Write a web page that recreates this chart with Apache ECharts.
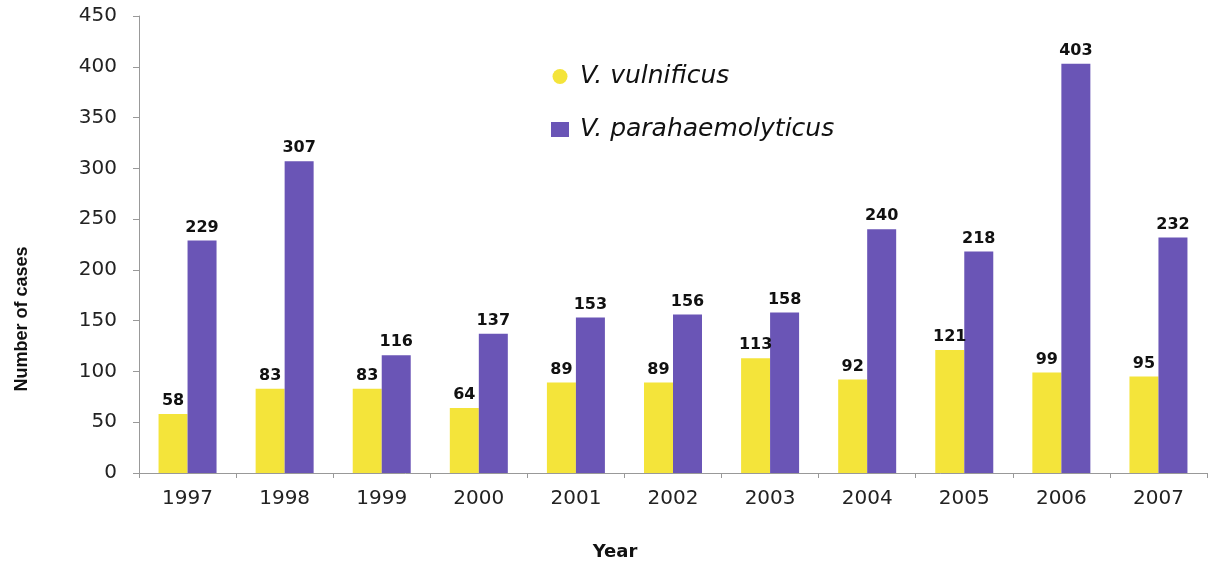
<!DOCTYPE html>
<html><head><meta charset="utf-8">
<script src="https://cdn.jsdelivr.net/npm/echarts@6/dist/echarts.min.js"></script>
<style>html,body{margin:0;padding:0;background:#fff}#c{width:1211px;height:562px}</style>
</head><body><div id="c"></div>
<script>
const years = ['1997','1998','1999','2000','2001','2002','2003','2004','2005','2006','2007'];
const vulnificus = [58,83,83,64,89,89,113,92,121,99,95];
const parahaemolyticus = [229,307,116,137,153,156,158,240,218,403,232];
const seriesNames = ['V. vulnificus','V. parahaemolyticus'];

const FF = 'DejaVu Sans, Liberation Sans, Arial, sans-serif';
const chart = echarts.init(document.getElementById('c'));
const lbl = {show:true, position:'top', distance:5, color:'#111', fontWeight:'bold', fontSize:16, fontFamily:FF};
chart.setOption({
  animation:false,
  grid:{left:139, right:4, top:16, bottom:89, containLabel:false},
  legend:{
    orient:'vertical', left:546, top:59, itemGap:28, itemWidth:18, itemHeight:15,
    textStyle:{fontSize:25, fontStyle:'italic', color:'#111', fontFamily:FF, padding:[0,0,0,6]},
    data:[{name:seriesNames[0], icon:'circle'},{name:seriesNames[1], icon:'rect'}]
  },
  xAxis:{
    type:'category', data:years,
    axisLine:{lineStyle:{color:'#999'}},
    axisTick:{show:true, length:5, lineStyle:{color:'#999'}},
    axisLabel:{fontSize:20, color:'#222', margin:16, fontFamily:FF}
  },
  yAxis:{
    type:'value', min:0, max:450, interval:50,
    axisLine:{show:true, lineStyle:{color:'#999'}},
    axisTick:{show:true, length:6, lineStyle:{color:'#999'}},
    splitLine:{show:false},
    axisLabel:{fontSize:20, color:'#222', margin:22, fontFamily:FF}
  },
  graphic:[
    {type:'text', x:22, y:319, rotation:Math.PI/2, style:{text:'Number of cases', fontSize:18, fontWeight:'bold', fill:'#111', fontFamily:'Liberation Sans, Arial, sans-serif', align:'center', verticalAlign:'middle'}},
    {type:'text', x:615, y:552, style:{text:'Year', fontSize:18, fontWeight:'bold', fill:'#111', fontFamily:FF, align:'center', verticalAlign:'middle'}}
  ],
  series:[
    {name:seriesNames[0], type:'bar', data:vulnificus, barWidth:29, barGap:'0%', itemStyle:{color:'#F4E43A'}, label:lbl},
    {name:seriesNames[1], type:'bar', data:parahaemolyticus, barWidth:29, itemStyle:{color:'#6A55B6'}, label:lbl}
  ]
});
</script></body></html>
